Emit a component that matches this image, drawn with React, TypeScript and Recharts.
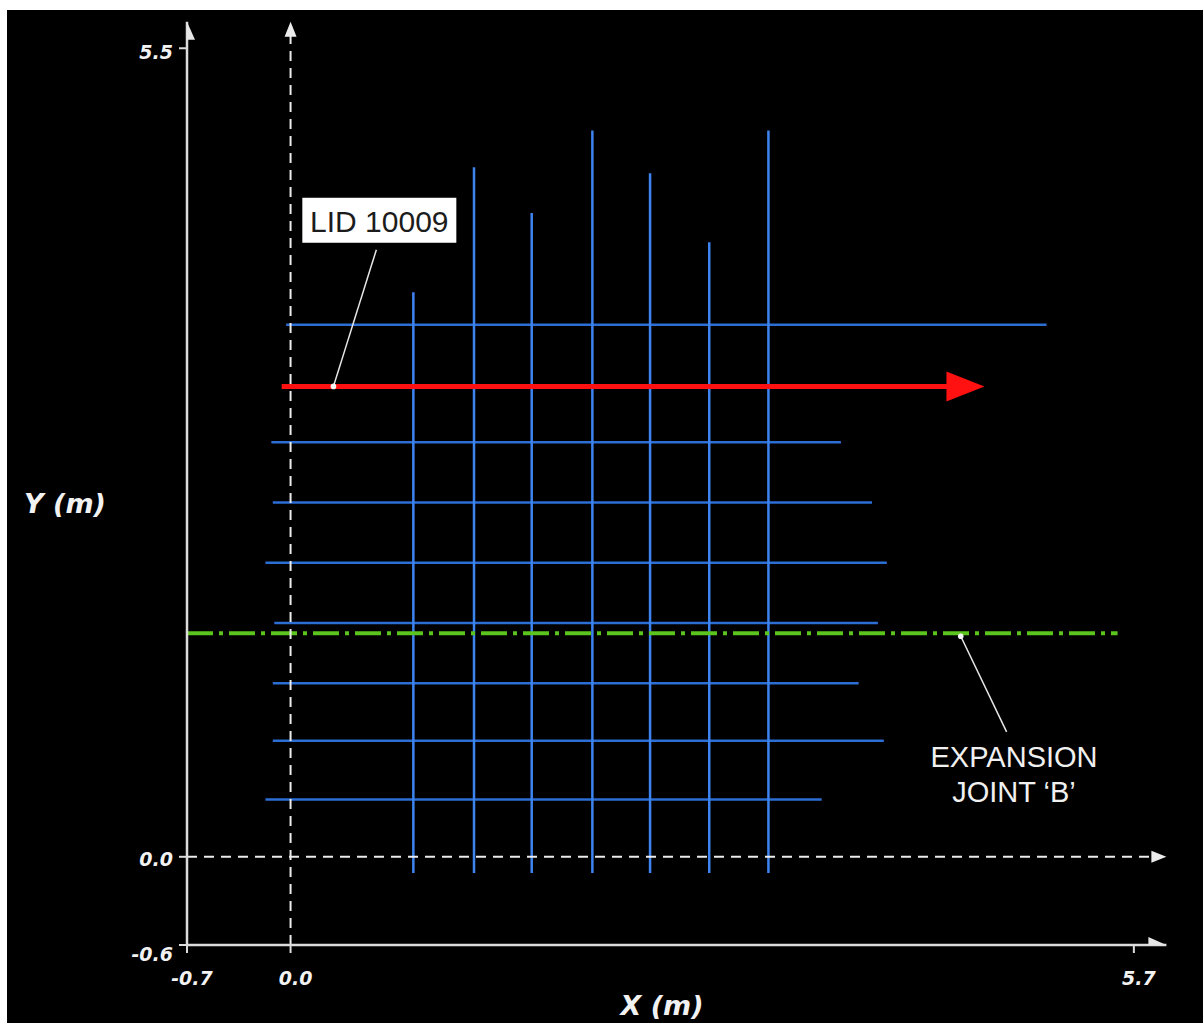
import React from 'react';
import { ComposedChart, Line, Scatter, XAxis, YAxis } from 'recharts';

// ---- axis ranges & ticks ----
const xDomain: [number, number] = [-0.7, 5.92];
const yDomain: [number, number] = [-0.6, 5.68];
const xTicks = [-0.7, 0.0, 5.7];
const yTicks = [-0.6, 0.0, 5.5];

// ---- blue reinforcement grid ----
const verticalBarX = [0.83, 1.24, 1.63, 2.04, 2.43, 2.83, 3.23];
const verticalBarTop = [3.84, 4.69, 4.38, 4.94, 4.65, 4.18, 4.94];
const verticalBarBottom = -0.11;

const horizontalBarY = [3.62, 2.82, 2.41, 2.0, 1.59, 1.18, 0.79, 0.39];
const horizontalBarStart = [-0.03, -0.13, -0.12, -0.17, -0.11, -0.12, -0.12, -0.17];
const horizontalBarEnd = [5.11, 3.72, 3.93, 4.03, 3.97, 3.84, 4.01, 3.59];

// ---- scan line (LID 10009) ----
const lidPath = [{ x: -0.06, y: 3.2 }, { x: 4.5, y: 3.2 }];
const lidArrowTip = [{ x: 4.69, y: 3.2 }];

// ---- expansion joint ----
const jointPath = [{ x: -0.7, y: 1.52 }, { x: 5.59, y: 1.52 }];

// ---- origin (dashed) axes ----
const originXPath = [{ x: -0.7, y: 0 }, { x: 5.85, y: 0 }];
const originYPath = [{ x: 0, y: -0.6 }, { x: 0, y: 5.6 }];
const originArrowTips = [
  { x: 5.92, y: 0, dir: 'right' },
  { x: 0, y: 5.68, dir: 'up' },
];
const axisArrowTips = [
  { x: 5.92, y: -0.6, dir: 'right' },
  { x: -0.7, y: 5.68, dir: 'up' },
];

// ---- callouts ----
const lidLeader = [{ x: 0.58, y: 4.13 }, { x: 0.29, y: 3.2 }];
const jointLeader = [{ x: 4.53, y: 1.5 }, { x: 4.84, y: 0.85 }];
const leaderDots = [{ x: 0.29, y: 3.2 }, { x: 4.53, y: 1.5 }];
const lidCallout = [{ x: 0.6, y: 4.33, text: 'LID 10009' }];
const jointCallout = [{ x: 4.89, y: 0.61, text: ['EXPANSION', 'JOINT \u2018B\u2019'] }];

const TICK_FONT = "'DejaVu Sans', Verdana, sans-serif";
const LABEL_FONT = "'Liberation Sans', Arial, sans-serif";

const makeArrow = (len: number, half: number, color: string) => (props: any) => {
  const { cx, cy, payload } = props;
  if (cx == null || cy == null) return <g />;
  const pts =
    payload && payload.dir === 'up'
      ? `${cx},${cy} ${cx - half},${cy + len} ${cx + half},${cy + len}`
      : `${cx},${cy} ${cx - len},${cy - half} ${cx - len},${cy + half}`;
  return <polygon points={pts} fill={color} />;
};

const XTick = (props: any) => {
  const { x, y, payload } = props;
  return (
    <text
      x={x + 5}
      y={y + 30}
      textAnchor="middle"
      fill="#f2f2f2"
      fontFamily={TICK_FONT}
      fontWeight="bold"
      fontStyle="italic"
      fontSize={19}
    >
      {Number(payload.value).toFixed(1)}
    </text>
  );
};

const YTick = (props: any) => {
  const { x, y, payload } = props;
  const extra = payload.value === yTicks[0] ? 9 : payload.value === yTicks[2] ? 4 : 2;
  return (
    <text
      x={x - 4}
      y={y + 7 + extra}
      textAnchor="end"
      fill="#f2f2f2"
      fontFamily={TICK_FONT}
      fontWeight="bold"
      fontStyle="italic"
      fontSize={19}
    >
      {Number(payload.value).toFixed(1)}
    </text>
  );
};

const LidBox = (props: any) => {
  const { cx, cy, payload } = props;
  if (cx == null) return <g />;
  return (
    <g>
      <rect x={cx - 77} y={cy - 22.5} width={154} height={45} fill="#ffffff" />
      <text
        x={cx}
        y={cy + 11.5}
        textAnchor="middle"
        fill="#1c1c1c"
        fontFamily={LABEL_FONT}
        fontSize={30}
      >
        {payload.text}
      </text>
    </g>
  );
};

const JointText = (props: any) => {
  const { cx, cy, payload } = props;
  if (cx == null) return <g />;
  return (
    <g>
      {payload.text.map((t: string, i: number) => (
        <text
          key={i}
          x={cx}
          y={cy + i * 35}
          textAnchor="middle"
          fill="#f0f0f0"
          fontFamily={LABEL_FONT}
          fontSize={29}
        >
          {t}
        </text>
      ))}
    </g>
  );
};

const Dot = (props: any) => {
  const { cx, cy } = props;
  if (cx == null) return <g />;
  return <circle cx={cx} cy={cy} r={2.8} fill="#f5f5f5" />;
};

export default function App() {
  return (
    <div
      style={{
        position: 'fixed',
        left: 7,
        top: 10,
        width: 1200,
        height: 1020,
        background: '#000',
        overflow: 'hidden',
      }}
    >
      <ComposedChart
        width={1196}
        height={1013}
        margin={{ top: 11.8, right: 36.6, left: 0, bottom: 0 }}
        style={{ background: '#000' }}
      >
        <XAxis
          type="number"
          dataKey="x"
          domain={xDomain}
          ticks={xTicks}
          interval={0}
          allowDataOverflow
          height={78}
          axisLine={{ stroke: '#dcdcdc', strokeWidth: 2.5 }}
          tickLine={{ stroke: '#dcdcdc', strokeWidth: 2 }}
          tickSize={8}
          tick={<XTick />}
          label={{
            content: (p: any) => {
              const vb = p.viewBox || { x: 180, y: 935 };
              return (
                <text
                  x={vb.x + 475}
                  y={vb.y + 70}
                  textAnchor="middle"
                  fill="#f2f2f2"
                  fontFamily={TICK_FONT}
                  fontWeight="bold"
                  fontStyle="italic"
                  fontSize={27}
                >
                  X (m)
                </text>
              );
            },
          }}
        />
        <YAxis
          type="number"
          dataKey="y"
          domain={yDomain}
          ticks={yTicks}
          interval={0}
          allowDataOverflow
          width={180}
          axisLine={{ stroke: '#dcdcdc', strokeWidth: 2.5 }}
          tickLine={{ stroke: '#dcdcdc', strokeWidth: 2 }}
          tickSize={8}
          tick={<YTick />}
          label={{
            content: (p: any) => {
              const vb = p.viewBox || { x: 0, y: 11.8 };
              return (
                <text
                  x={vb.x + 58}
                  y={vb.y + 491}
                  textAnchor="middle"
                  fill="#f2f2f2"
                  fontFamily={TICK_FONT}
                  fontWeight="bold"
                  fontStyle="italic"
                  fontSize={27}
                >
                  Y (m)
                </text>
              );
            },
          }}
        />

        {horizontalBarY.map((y, i) => (
          <Line
            key={`h${i}`}
            data={[{ x: horizontalBarStart[i], y }, { x: horizontalBarEnd[i], y }]}
            dataKey="y"
            type="linear"
            stroke="#2c6ed4"
            strokeWidth={2.5}
            dot={false}
            activeDot={false}
            isAnimationActive={false}
          />
        ))}
        {verticalBarX.map((x, i) => (
          <Line
            key={`v${i}`}
            data={[{ x, y: verticalBarBottom }, { x, y: verticalBarTop[i] }]}
            dataKey="y"
            type="linear"
            stroke="#3d84f0"
            strokeWidth={2.5}
            dot={false}
            activeDot={false}
            isAnimationActive={false}
          />
        ))}

        <Line
          data={jointPath}
          dataKey="y"
          type="linear"
          stroke="#5cc41e"
          strokeWidth={4}
          strokeDasharray="26 6 4 6"
          dot={false}
          activeDot={false}
          isAnimationActive={false}
        />

        <Line
          data={originXPath}
          dataKey="y"
          type="linear"
          stroke="#ececec"
          strokeWidth={2}
          strokeDasharray="10 7"
          dot={false}
          activeDot={false}
          isAnimationActive={false}
        />
        <Line
          data={originYPath}
          dataKey="y"
          type="linear"
          stroke="#ececec"
          strokeWidth={2}
          strokeDasharray="10 7"
          dot={false}
          activeDot={false}
          isAnimationActive={false}
        />

        <Line
          data={lidPath}
          dataKey="y"
          type="linear"
          stroke="#ff1111"
          strokeWidth={5}
          dot={false}
          activeDot={false}
          isAnimationActive={false}
        />

        <Scatter data={axisArrowTips} dataKey="y" shape={makeArrow(18, 8, '#e6e6e6')} isAnimationActive={false} />
        <Scatter data={originArrowTips} dataKey="y" shape={makeArrow(15, 6, '#ececec')} isAnimationActive={false} />
        <Scatter data={lidArrowTip} dataKey="y" shape={makeArrow(38, 15, '#ff1111')} isAnimationActive={false} />

        <Line
          data={lidLeader}
          dataKey="y"
          type="linear"
          stroke="#e8e8e8"
          strokeWidth={1.5}
          dot={false}
          activeDot={false}
          isAnimationActive={false}
        />
        <Line
          data={jointLeader}
          dataKey="y"
          type="linear"
          stroke="#e8e8e8"
          strokeWidth={1.5}
          dot={false}
          activeDot={false}
          isAnimationActive={false}
        />
        <Scatter data={leaderDots} dataKey="y" shape={<Dot />} isAnimationActive={false} />
        <Scatter data={lidCallout} dataKey="y" shape={<LidBox />} isAnimationActive={false} />
        <Scatter data={jointCallout} dataKey="y" shape={<JointText />} isAnimationActive={false} />
      </ComposedChart>
    </div>
  );
}
